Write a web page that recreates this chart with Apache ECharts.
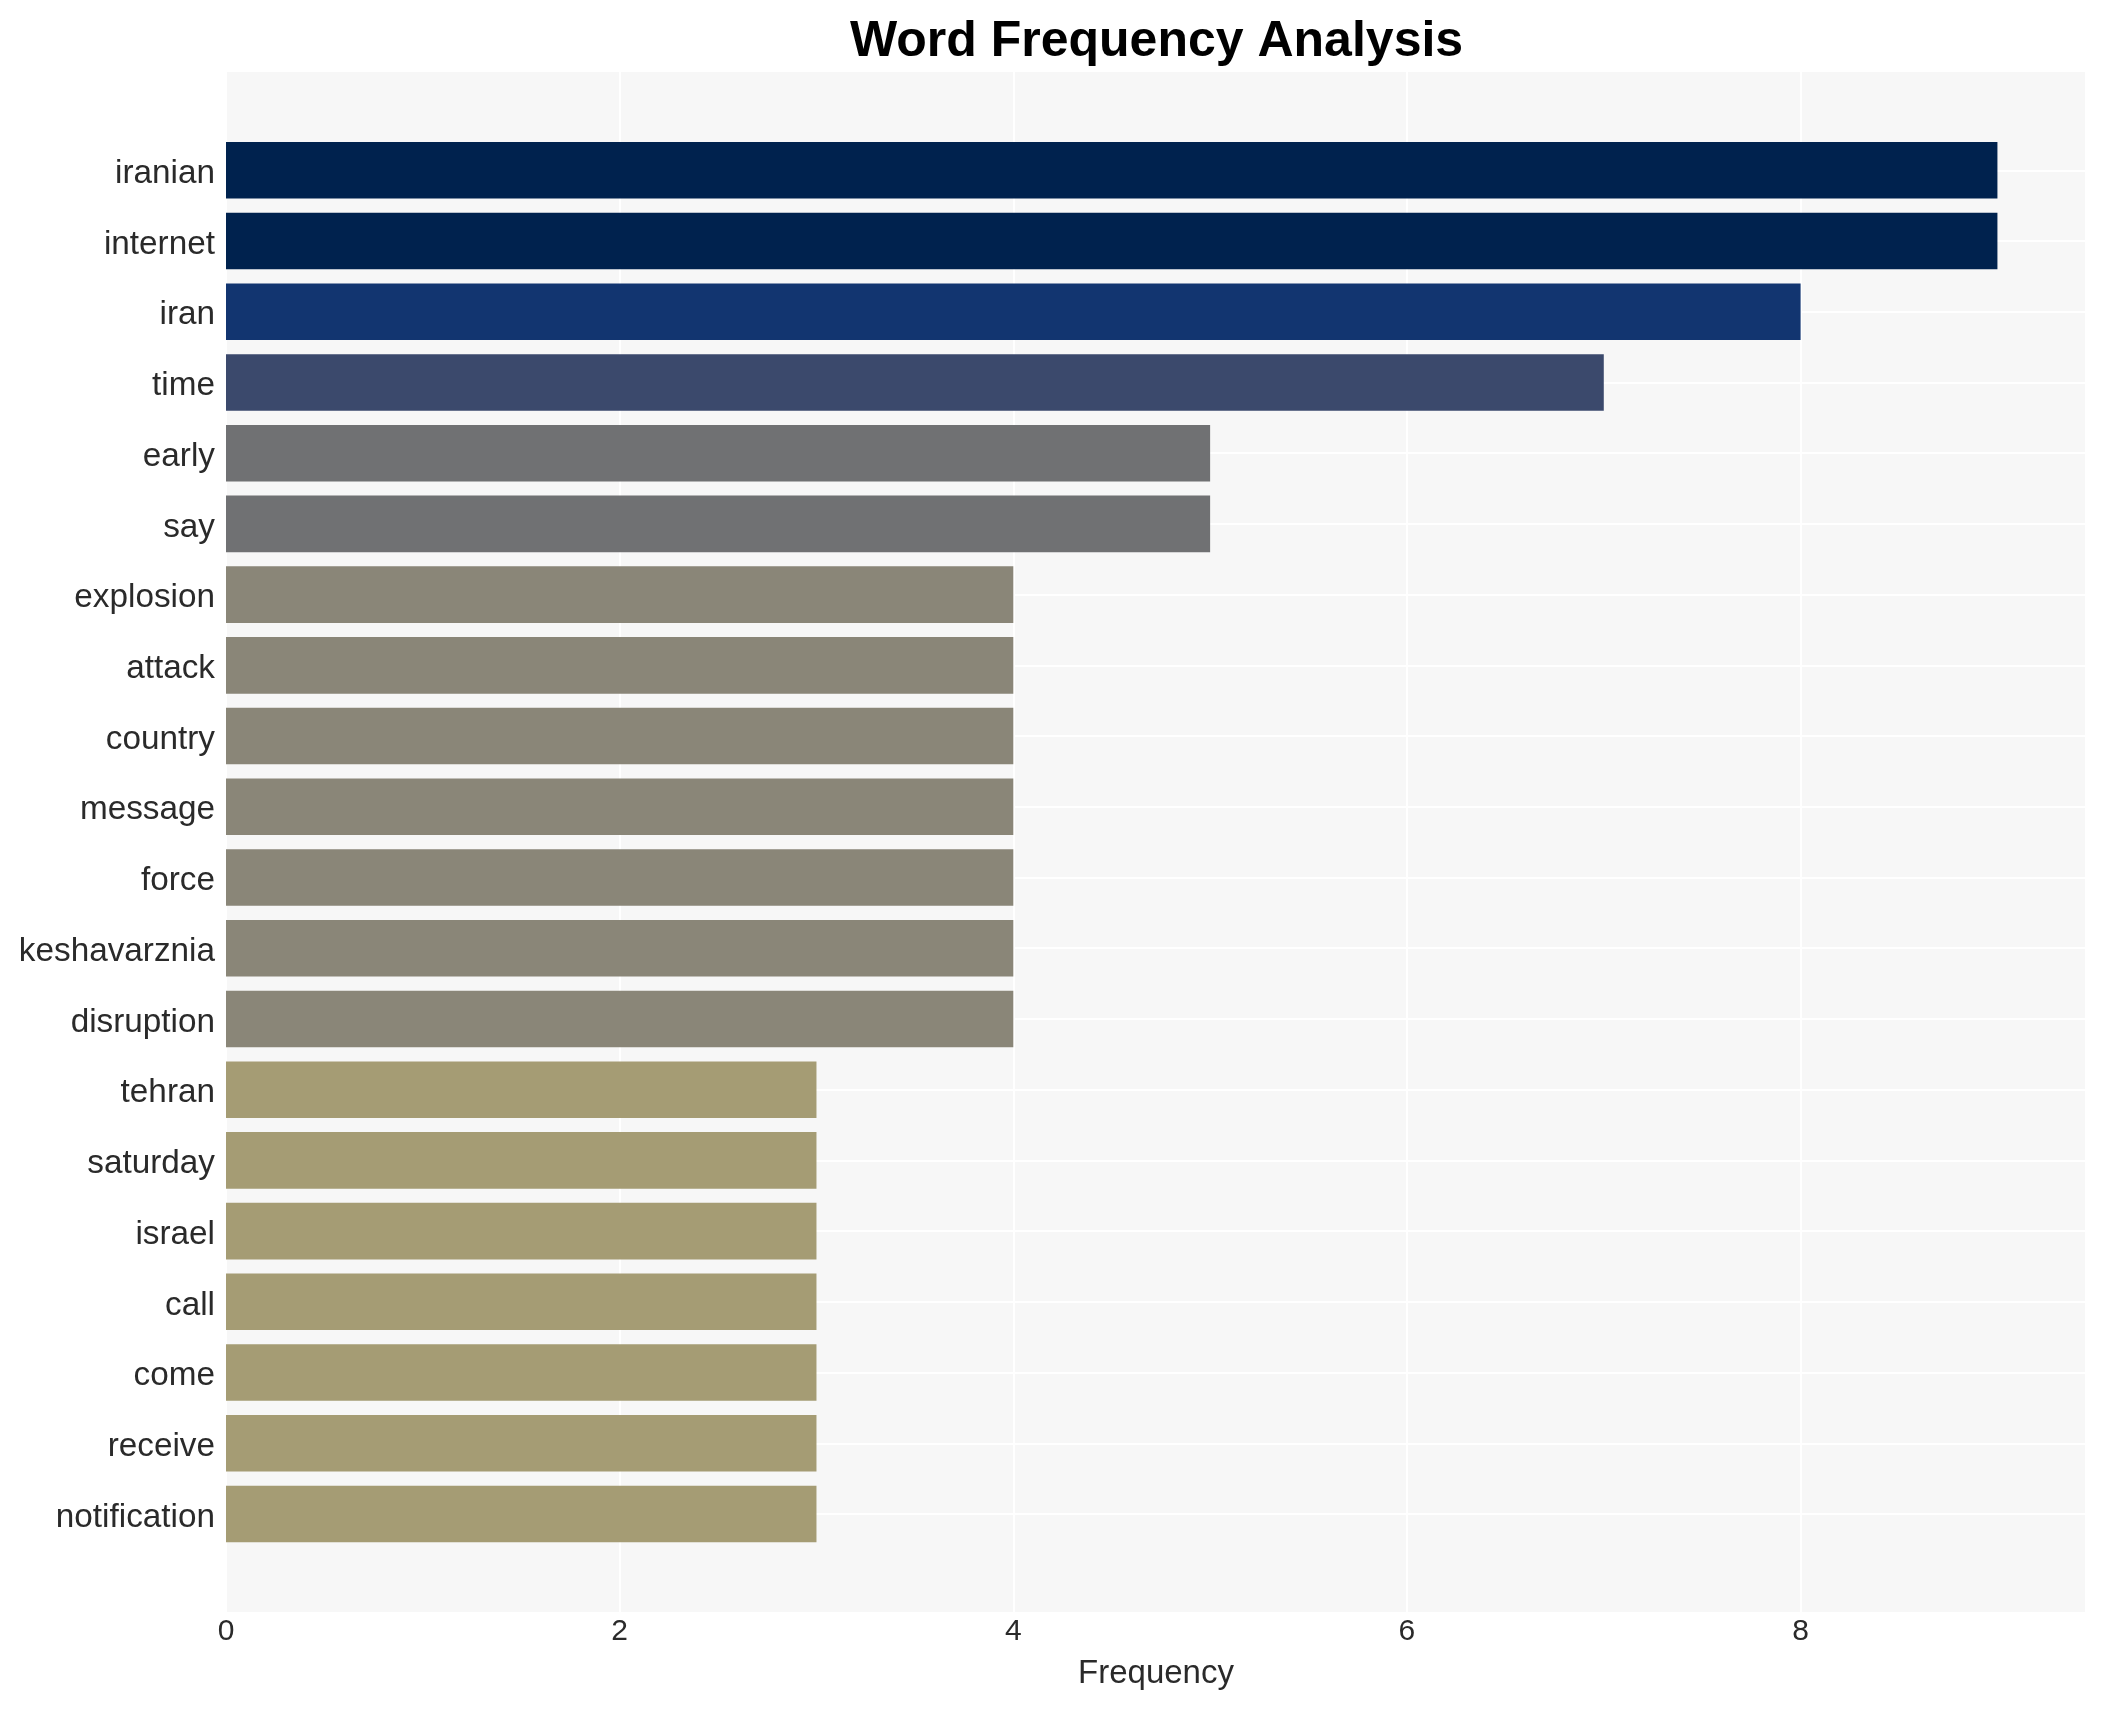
<!DOCTYPE html>
<html>
<head>
<meta charset="utf-8">
<script src="https://cdn.jsdelivr.net/npm/echarts@6/dist/echarts.min.js"></script>
<style>
html,body{margin:0;padding:0;background:#ffffff;}
#chart{width:2106px;height:1710px;}
</style>
</head>
<body>
<div id="chart"></div>
<script>
// ---- data ----
const categories = ['iranian','internet','iran','time','early','say','explosion','attack','country','message','force','keshavarznia','disruption','tehran','saturday','israel','call','come','receive','notification'];
const frequencies = [9,9,8,7,5,5,4,4,4,4,4,4,4,3,3,3,3,3,3,3];
const xTickValues = [0,2,4,6,8];
const xMax = 9.45;
// cividis-like colours keyed by frequency value
const colorValues = [9,8,7,6,5,4,3];
const colorList = ['#00224e','#123570','#3b496c','#575d6d','#707173','#8a8678','#a59c74'];

const FONT = "'Liberation Sans', Arial, Helvetica, sans-serif";
const chart = echarts.init(document.getElementById('chart'), null, {renderer:'canvas'});

function colorFor(v){
  const i = colorValues.indexOf(v);
  return i >= 0 ? colorList[i] : colorList[colorList.length-1];
}

const option = {
  backgroundColor:'#ffffff',
  animation:false,
  title:{
    text:'Word Frequency Analysis',
    left:845, top:12,
    textStyle:{fontFamily:FONT,fontWeight:'bold',fontSize:50,color:'#000000'}
  },
  grid:[
    {left:226,right:20,top:72,bottom:98,show:true,backgroundColor:'#f7f7f7',borderWidth:0,containLabel:false},
    {left:226,right:20,top:134.94,bottom:160.64,containLabel:false},
    {left:226,right:20,top:170.3,bottom:196,containLabel:false}
  ],
  xAxis:[
    {gridIndex:0,type:'value',min:0,max:xMax,interval:2,
     axisLine:{show:false},axisTick:{show:false},
     splitLine:{show:true,lineStyle:{color:'#ffffff',width:2}},
     axisLabel:{fontFamily:FONT,fontSize:30,color:'#2a2a2a',margin:5,showMaxLabel:false,
       formatter:function(v){return xTickValues.indexOf(v)>=0 ? String(v) : '';}},
     name:'Frequency',nameLocation:'middle',nameGap:45,
     nameTextStyle:{fontFamily:FONT,fontSize:33,color:'#2a2a2a'}},
    {gridIndex:1,type:'value',min:0,max:xMax,show:false},
    {gridIndex:2,type:'value',min:0,max:1,show:false}
  ],
  yAxis:[
    {gridIndex:0,type:'value',min:0,max:1,show:false},
    {gridIndex:1,type:'category',data:categories,inverse:true,
     axisLine:{show:false},axisTick:{show:false},splitLine:{show:false},
     axisLabel:{fontFamily:FONT,fontSize:33.3,color:'#2a2a2a',margin:11,interval:0,
       verticalAlign:'top',lineHeight:7}},
    {gridIndex:2,type:'category',data:categories,inverse:true,boundaryGap:false,
     axisLine:{show:false},axisTick:{show:false},axisLabel:{show:false},
     splitLine:{show:true,interval:0,lineStyle:{color:'#ffffff',width:2}}}
  ],
  series:[
    {type:'bar',xAxisIndex:1,yAxisIndex:1,barCategoryGap:'20%',z:3,
     data:frequencies.map(function(v){return {value:v,itemStyle:{color:colorFor(v)}};}),
     emphasis:{disabled:true}}
  ]
};
chart.setOption(option);
</script>
</body>
</html>
